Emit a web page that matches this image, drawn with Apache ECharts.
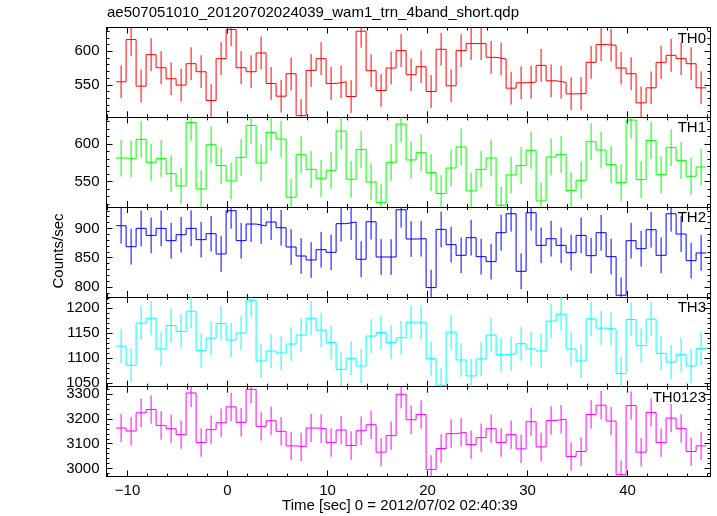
<!DOCTYPE html>
<html><head><meta charset="utf-8">
<script src="https://cdn.jsdelivr.net/npm/echarts@6/dist/echarts.min.js"></script>
<style>html,body{margin:0;padding:0;background:#fff}#c{width:717px;height:516px}</style>
</head><body><div id="c"></div>
<script>
// ---- data ----
const chartTitle = 'ae507051010_20120702024039_wam1_trn_4band_short.qdp';
const xTitle = 'Time [sec] 0 = 2012/07/02 02:40:39';
const yTitle = 'Counts/sec';
const bandNames = ['TH0', 'TH1', 'TH2', 'TH3', 'TH0123'];
const bandColors = ['#ff0000', '#00ff00', '#0000ff', '#00ffff', '#ff00ff'];
const binWidth = 1;
const times = [-10.64, -9.64, -8.64, -7.64, -6.64, -5.64, -4.64, -3.64, -2.64, -1.64,
  -0.64, 0.36, 1.36, 2.36, 3.36, 4.36, 5.36, 6.36, 7.36, 8.36,
  9.36, 10.36, 11.36, 12.36, 13.36, 14.36, 15.36, 16.36, 17.36, 18.36,
  19.36, 20.36, 21.36, 22.36, 23.36, 24.36, 25.36, 26.36, 27.36, 28.36,
  29.36, 30.36, 31.36, 32.36, 33.36, 34.36, 35.36, 36.36, 37.36, 38.36,
  39.36, 40.36, 41.36, 42.36, 43.36, 44.36, 45.36, 46.36, 47.36];
const th0 = [554.5, 617.5, 548, 595, 575.5, 559, 549.5, 581.5, 569.5, 526.5,
  589, 632.5, 575.5, 569.5, 597.5, 552, 533, 566.5, 504, 571.5,
  589, 552, 554.5, 532.5, 630, 571, 541.5, 575, 601, 565,
  577, 540, 603, 548.5, 601, 611.5, 611.5, 591, 588.5, 545,
  553, 554, 579, 556, 553.5, 536.5, 537, 583.5, 610, 609,
  575, 566.5, 523, 545.5, 583.5, 594, 589, 581.5, 545.5];
const th1 = [581.3, 580, 606.1, 575.6, 580.5, 560.5, 544.2, 628.7, 540.2, 599,
  571.2, 550.8, 582.2, 624.7, 574.7, 615.4, 606.6, 529.1, 585.8, 566.3,
  554.3, 565, 617.2, 553, 592.8, 549.5, 522, 575.6, 626.5, 578.7,
  588.4, 561.9, 534, 568, 596, 537.5, 566.3, 581.3, 518.5, 558.8,
  571.2, 591.5, 524.2, 582.7, 586.2, 538, 551.7, 603, 592, 572.5,
  548.6, 631.8, 552.6, 604.8, 559.2, 595.1, 578.2, 557, 569.4];
const th2 = [904.5, 868.7, 900, 888, 900, 879, 889.2, 900, 880.7, 890.9,
  856.3, 930.1, 879, 907.4, 904, 910.8, 901.1, 868.2, 852.8, 846,
  863.6, 859.1, 908, 910.8, 847.2, 911.3, 851.1, 851.1, 931.8, 881.8,
  882.4, 798.9, 898.3, 872.2, 854, 884.1, 851.7, 843.2, 892.6, 925,
  826.7, 926.7, 871, 882.4, 871, 858.5, 888, 853.4, 892.6, 851.7,
  785.8, 879, 865.3, 897.7, 854, 925, 890.3, 844.9, 858];
const th3 = [1124.3, 1085.8, 1170.1, 1180, 1118.3, 1165.4, 1153.5, 1194, 1115.6, 1140.2,
  1169.4, 1136.2, 1150.2, 1215.9, 1094.4, 1114.3, 1110.3, 1128.3, 1146.2, 1180,
  1156.2, 1131.6, 1077.8, 1099.7, 1084.4, 1144.2, 1151.5, 1131.6, 1140.9, 1172.1,
  1172.1, 1099, 1045.9, 1152.2, 1096.4, 1064.5, 1098.4, 1146.2, 1107, 1109,
  1128.9, 1118.3, 1114.3, 1174.1, 1188, 1118.3, 1094.4, 1178.7, 1160.1, 1158.1,
  1069.2, 1177.4, 1124.9, 1178, 1109.7, 1092.4, 1107, 1084.4, 1119.6];
const th0123 = [3163.1, 3151.1, 3224.2, 3237.5, 3173.7, 3160.4, 3136.5, 3303.9, 3104.7, 3156.5,
  3184.3, 3248.1, 3185.7, 3318.5, 3169.7, 3192.3, 3149.8, 3091.4, 3087.4, 3163.1,
  3160.4, 3104.7, 3155.1, 3092.7, 3152.5, 3176.4, 3066.2, 3132.6, 3298.6, 3196.3,
  3217.5, 2997.1, 3080.8, 3140.5, 3145.8, 3096.7, 3124.6, 3160.4, 3104.7, 3136.5,
  3079.4, 3188.3, 3087.4, 3193.6, 3199, 3048.9, 3068.8, 3217.5, 3254.7, 3191,
  2975.8, 3253.4, 3066.2, 3225.5, 3104.7, 3203, 3161.8, 3068.8, 3091.4];
const bandValues = [th0, th1, th2, th3, th0123];
const bandErrors = [24.5, 24.5, 30.5, 34, 57];
const yMins = [501.5, 516, 783, 1043, 2968.5];
const yMaxs = [635.5, 635.5, 936.3, 1222.5, 3329];
const yMajor = [50, 50, 50, 50, 100];
const xMin = -12.1, xMax = 48.3, xMajor = 10;

// ---- layout ----
const FONT = 'Liberation Sans, Arial, Helvetica, sans-serif';
const gridLeft = 106.5, gridRight = 6.5, gridTop0 = 27.5, panelH = 89.8;
const black = '#000';

const grids = [], xAxes = [], yAxes = [], series = [], graphics = [];
function isMult(v, m) { return Math.abs(v / m - Math.round(v / m)) < 1e-6; }

bandNames.forEach((name, i) => {
  const top = gridTop0 + panelH * i;
  grids.push({ left: gridLeft, right: gridRight, top: top, height: panelH, outerBoundsMode: 'none', containLabel: false });
  const tickCommon = {
    axisLine: { show: true, onZero: false, lineStyle: { color: black, width: 1 } },
    axisTick: { show: true, inside: true, length: 6, lineStyle: { color: black, width: 1 } },
    minorTick: { show: true, splitNumber: 5, length: 3, lineStyle: { color: black, width: 1 } },
    splitLine: { show: false }, minorSplitLine: { show: false }
  };
  ['bottom', 'top'].forEach(pos => {
    xAxes.push(Object.assign({
      type: 'value', gridIndex: i, position: pos, min: xMin, max: xMax,
      minInterval: xMajor, maxInterval: xMajor,
      axisLabel: {
        show: (pos === 'bottom' && i === bandNames.length - 1),
        color: black, fontSize: 15, fontFamily: FONT, margin: 7,
        showMinLabel: false, showMaxLabel: false,
        formatter: v => isMult(v, xMajor) ? (v < 0 ? '\u2212' + (-v) : String(v)) : ''
      }
    }, tickCommon));
  });
  ['left', 'right'].forEach(pos => {
    yAxes.push(Object.assign({
      type: 'value', gridIndex: i, position: pos, min: yMins[i], max: yMaxs[i],
      minInterval: yMajor[i], maxInterval: yMajor[i], scale: true,
      axisLabel: {
        show: pos === 'left', color: black, fontSize: 15, fontFamily: FONT, margin: 7,
        showMinLabel: false, showMaxLabel: false,
        formatter: v => isMult(v, yMajor[i]) ? String(v) : ''
      }
    }, tickCommon));
  });

  const vals = bandValues[i];
  const stepData = [];
  times.forEach((t, k) => {
    stepData.push([t - binWidth / 2, vals[k]]);
    stepData.push([t + binWidth / 2, vals[k]]);
  });
  series.push({
    type: 'line', name: name, xAxisIndex: 2 * i, yAxisIndex: 2 * i,
    data: stepData, showSymbol: false, symbol: 'none', silent: true, animation: false,
    lineStyle: { color: bandColors[i], width: 1 }, clip: true
  });
  const err = bandErrors[i];
  series.push({
    type: 'custom', name: name + ' err', xAxisIndex: 2 * i, yAxisIndex: 2 * i,
    data: times.map((t, k) => [t, vals[k] - err, vals[k] + err]),
    encode: { x: 0, y: [1, 2] }, silent: true, animation: false,
    renderItem: (params, api) => {
      const p1 = api.coord([api.value(0), api.value(1)]);
      const p2 = api.coord([api.value(0), api.value(2)]);
      const cs = params.coordSys;
      const clampY = y => Math.max(cs.y, Math.min(cs.y + cs.height, y));
      return {
        type: 'line',
        shape: { x1: p1[0], y1: clampY(p1[1]), x2: p2[0], y2: clampY(p2[1]) },
        style: { stroke: bandColors[i], lineWidth: 1 }
      };
    }
  });

  graphics.push({
    type: 'text', right: 11, top: top + 3.5, silent: true,
    style: { text: name, fill: black, font: '15px ' + FONT }
  });
});

graphics.push({ type: 'text', left: 107, top: 5, silent: true,
  style: { text: chartTitle, fill: black, font: '15px ' + FONT } });
graphics.push({ type: 'text', x: 400, y: 506, silent: true,
  style: { text: xTitle, fill: black, font: '15px ' + FONT, textAlign: 'center', textVerticalAlign: 'middle' } });
graphics.push({ type: 'text', x: 59, y: 251, rotation: Math.PI / 2, silent: true,
  style: { text: yTitle, fill: black, font: '15px ' + FONT, textAlign: 'center', textVerticalAlign: 'middle' } });

const chart = echarts.init(document.getElementById('c'), null, { renderer: 'canvas' });
chart.setOption({
  backgroundColor: '#fff', animation: false,
  grid: grids, xAxis: xAxes, yAxis: yAxes, series: series, graphic: graphics
});
</script></body></html>
